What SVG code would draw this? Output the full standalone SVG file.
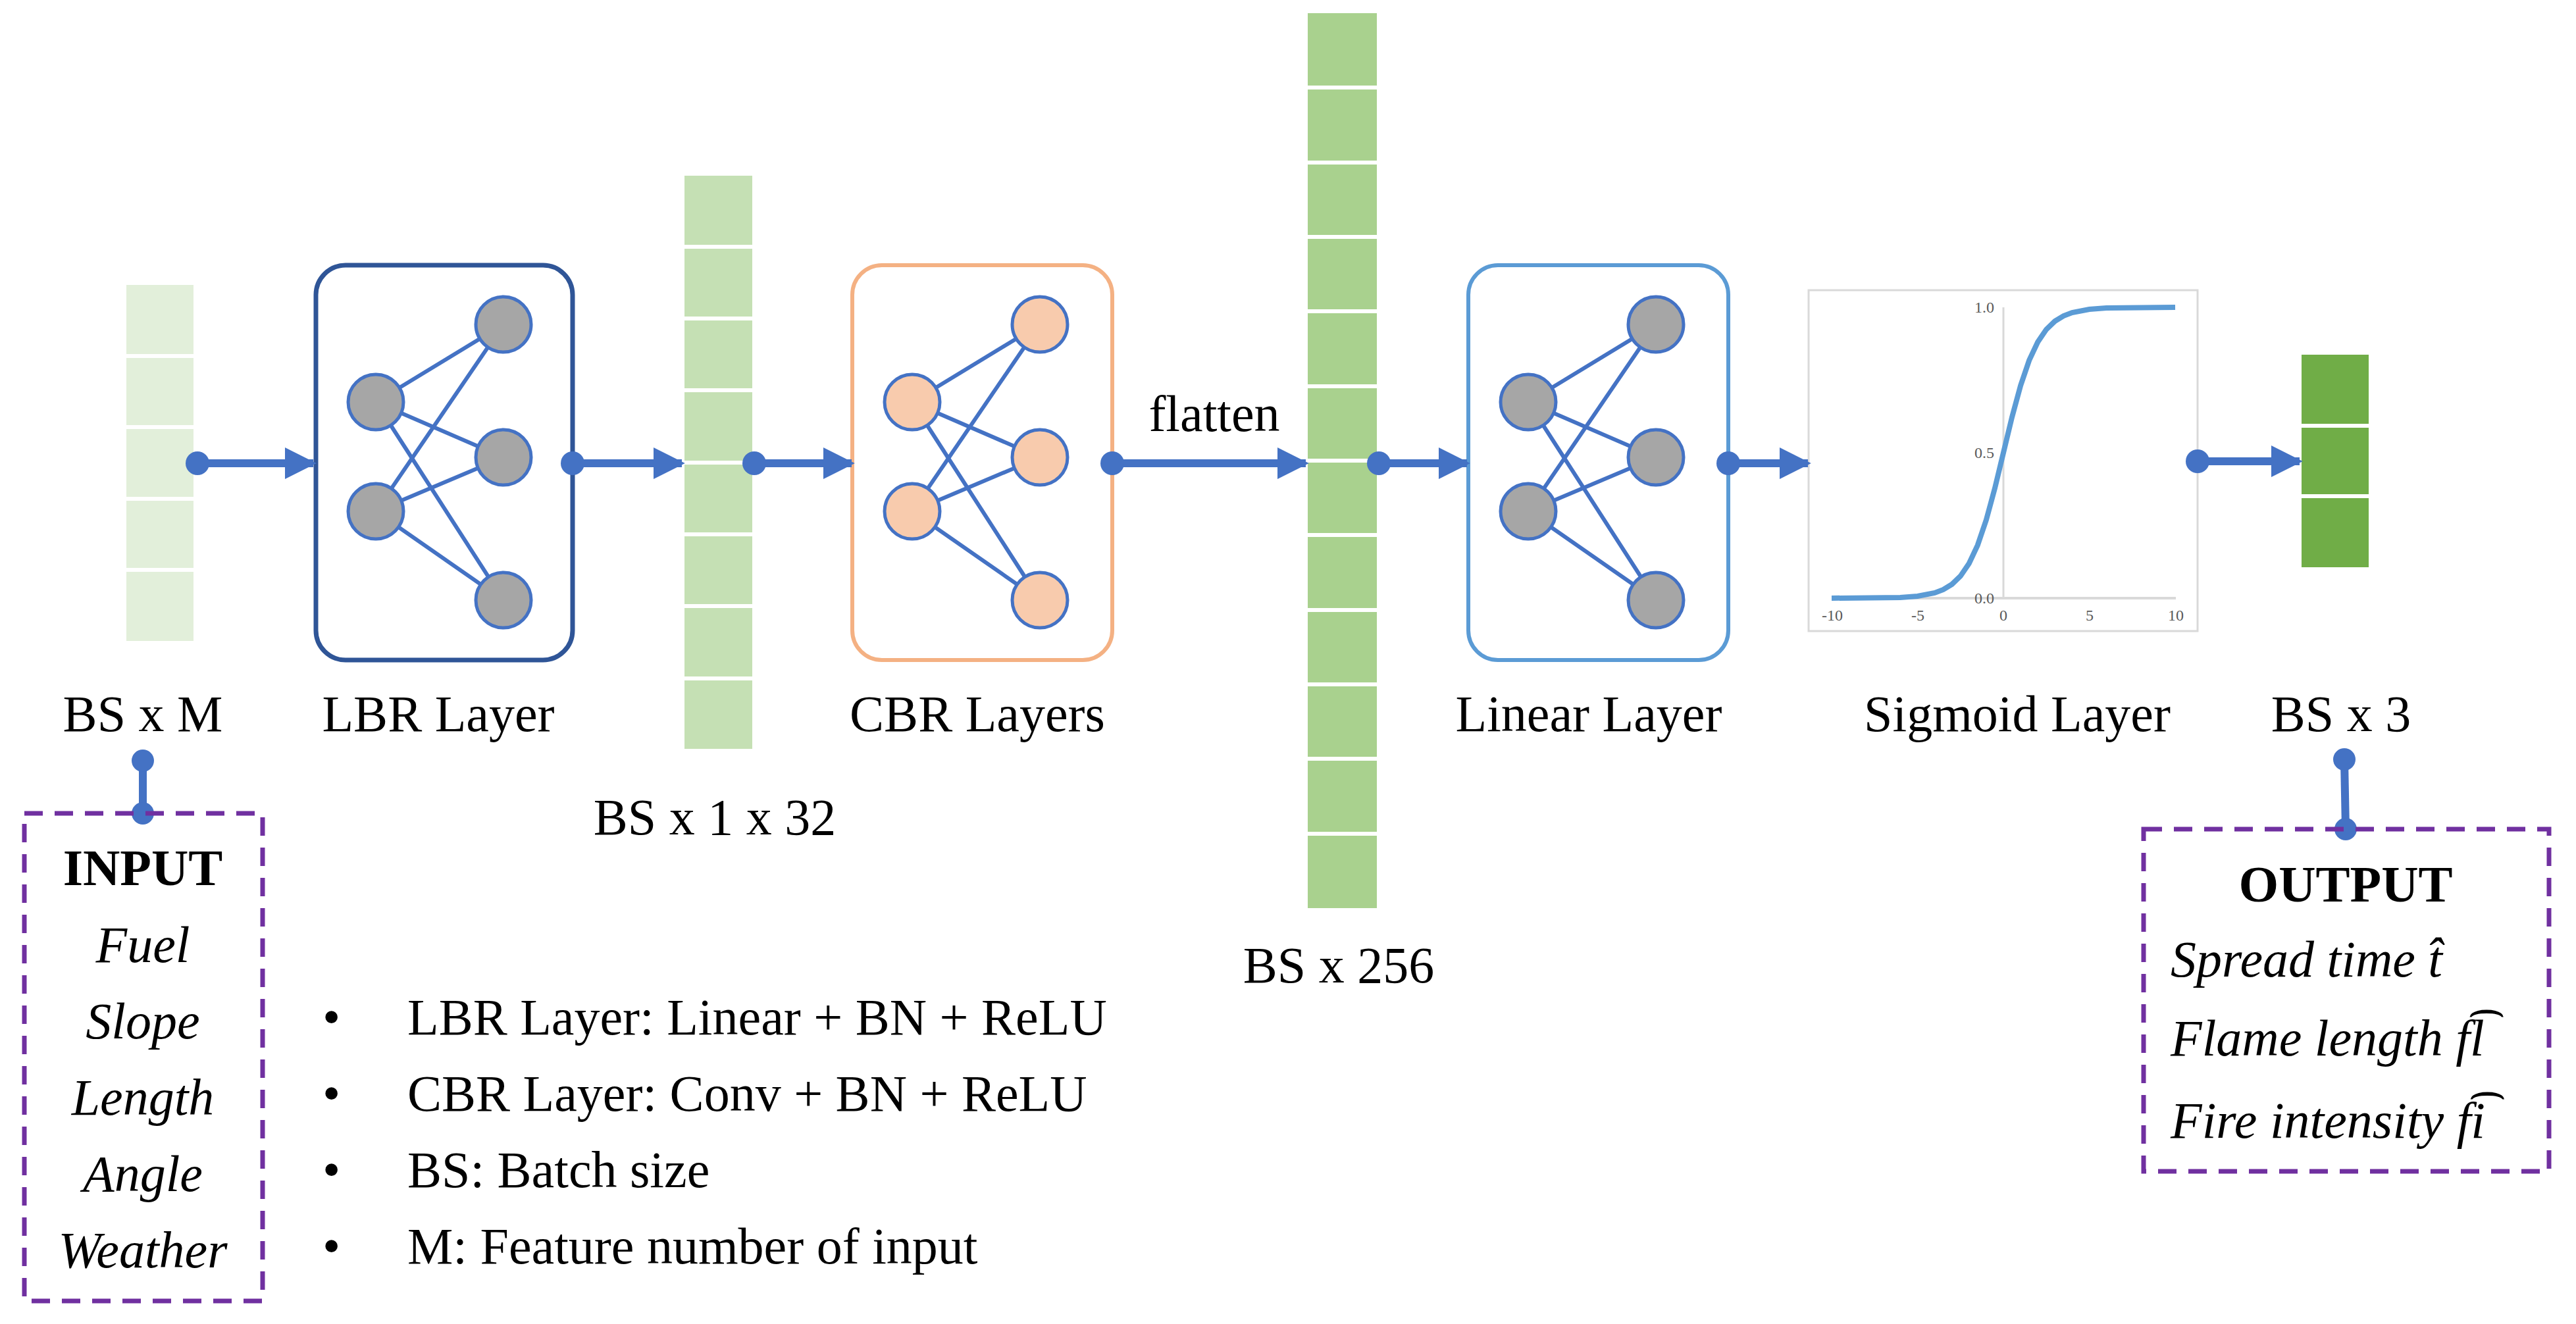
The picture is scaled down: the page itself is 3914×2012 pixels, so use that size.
<svg xmlns="http://www.w3.org/2000/svg" width="3914" height="2012" viewBox="0 0 3914 2012">
<style>
.t{font-family:"Liberation Serif",serif;font-size:78px;fill:#000}
.i{font-style:italic}
.b{font-weight:bold}
.n{stroke:#4472c4;stroke-width:5}
.e{stroke:#4472c4;stroke-width:6}
.cell{stroke:#fff;stroke-width:6}
.conn{stroke:#4472c4;stroke-width:12;fill:none}
.dash{fill:none;stroke:#7030a0;stroke-width:7;stroke-dasharray:28 18}
.tk{font-family:"Liberation Serif",serif;font-size:24px;fill:#595959}
</style>
<defs>
<marker id="ah" viewBox="0 0 10 10" refX="9" refY="5" markerWidth="4" markerHeight="4.5" markerUnits="strokeWidth" orient="auto"><path d="M0,0 L10,5 L0,10 z" fill="#4472c4"/></marker>
<g id="net">
<line class="e" x1="91" y1="210" x2="285" y2="92"/><line class="e" x1="91" y1="210" x2="285" y2="294"/><line class="e" x1="91" y1="210" x2="285" y2="511"/>
<line class="e" x1="91" y1="376" x2="285" y2="92"/><line class="e" x1="91" y1="376" x2="285" y2="294"/><line class="e" x1="91" y1="376" x2="285" y2="511"/>
</g>
</defs>
<rect width="3914" height="2012" fill="#fff"/>

<g id="input-col">
<rect x="192" y="433" width="102" height="541" fill="#e2efda"/>
<g class="cell"><line x1="192" y1="541" x2="294" y2="541"/><line x1="192" y1="649" x2="294" y2="649"/><line x1="192" y1="758" x2="294" y2="758"/><line x1="192" y1="866" x2="294" y2="866"/></g>
</g>

<g id="lbr">
<rect x="480" y="403" width="390" height="600" rx="45" fill="#fff" stroke="#2f5597" stroke-width="7"/>
<use href="#net" x="480" y="401"/>
<g fill="#a6a6a6" class="n"><circle cx="571" cy="611" r="42"/><circle cx="571" cy="777" r="42"/><circle cx="765" cy="493" r="42"/><circle cx="765" cy="695" r="42"/><circle cx="765" cy="912" r="42"/></g>
</g>

<g id="col32">
<rect x="1040" y="267" width="103" height="871" fill="#c5e0b4"/>
<g class="cell"><line x1="1040" y1="375" x2="1143" y2="375"/><line x1="1040" y1="484" x2="1143" y2="484"/><line x1="1040" y1="593" x2="1143" y2="593"/><line x1="1040" y1="703" x2="1143" y2="703"/><line x1="1040" y1="812" x2="1143" y2="812"/><line x1="1040" y1="921" x2="1143" y2="921"/><line x1="1040" y1="1031" x2="1143" y2="1031"/></g>
</g>

<g id="cbr">
<rect x="1295" y="403" width="395" height="600" rx="45" fill="#fff" stroke="#f4b183" stroke-width="6"/>
<use href="#net" x="1295" y="401"/>
<g fill="#f8cbad" class="n"><circle cx="1386" cy="611" r="42"/><circle cx="1386" cy="777" r="42"/><circle cx="1580" cy="493" r="42"/><circle cx="1580" cy="695" r="42"/><circle cx="1580" cy="912" r="42"/></g>
</g>

<g id="col256">
<rect x="1987" y="20" width="105" height="1360" fill="#a9d18e"/>
<g class="cell">
<line x1="1987" y1="133" x2="2092" y2="133"/><line x1="1987" y1="247" x2="2092" y2="247"/><line x1="1987" y1="360" x2="2092" y2="360"/><line x1="1987" y1="473" x2="2092" y2="473"/><line x1="1987" y1="587" x2="2092" y2="587"/><line x1="1987" y1="700" x2="2092" y2="700"/><line x1="1987" y1="813" x2="2092" y2="813"/><line x1="1987" y1="927" x2="2092" y2="927"/><line x1="1987" y1="1040" x2="2092" y2="1040"/><line x1="1987" y1="1153" x2="2092" y2="1153"/><line x1="1987" y1="1267" x2="2092" y2="1267"/>
</g>
</g>

<g id="linear">
<rect x="2231" y="403" width="395" height="600" rx="45" fill="#fff" stroke="#5b9bd5" stroke-width="6"/>
<use href="#net" x="2231" y="401"/>
<g fill="#a6a6a6" class="n"><circle cx="2322" cy="611" r="42"/><circle cx="2322" cy="777" r="42"/><circle cx="2516" cy="493" r="42"/><circle cx="2516" cy="695" r="42"/><circle cx="2516" cy="912" r="42"/></g>
</g>

<g id="sigmoid">
<rect x="2748" y="441" width="591" height="518" fill="#fff" stroke="#d9d9d9" stroke-width="3"/>
<line x1="2784" y1="909" x2="3306" y2="909" stroke="#d9d9d9" stroke-width="4"/>
<line x1="3044" y1="467" x2="3044" y2="909" stroke="#d9d9d9" stroke-width="3"/>
<polyline fill="none" stroke="#5b9bd5" stroke-width="8" points="2783,909 2887.4,907.9 2913.5,906 2939.6,901 2952.65,896 2965.7,888 2978.75,875.5 2991.8,856.3 3004.85,828.4 3017.9,790.1 3030.95,742.1 3044,688 3057.05,633.9 3070.1,585.9 3083.15,547.6 3096.2,519.7 3109.25,500.5 3122.3,488 3135.35,480 3148.4,475 3174.5,470 3200.6,468.1 3305,467"/>
<g class="tk" text-anchor="end"><text x="3030" y="475">1.0</text><text x="3030" y="696">0.5</text><text x="3030" y="917">0.0</text></g>
<g class="tk" text-anchor="middle"><text x="2784" y="943">-10</text><text x="2914" y="943">-5</text><text x="3044" y="943">0</text><text x="3175" y="943">5</text><text x="3306" y="943">10</text></g>
</g>

<g id="output-col">
<rect x="3497" y="539" width="102" height="323" fill="#70ad47"/>
<g class="cell"><line x1="3497" y1="647" x2="3599" y2="647"/><line x1="3497" y1="754" x2="3599" y2="754"/></g>
</g>

<g id="connectors" fill="#4472c4">
<line class="conn" x1="300" y1="704" x2="476" y2="704" marker-end="url(#ah)"/><circle cx="300" cy="704" r="18"/>
<line class="conn" x1="870" y1="704" x2="1036" y2="704" marker-end="url(#ah)"/><circle cx="870" cy="704" r="18"/>
<line class="conn" x1="1146" y1="704" x2="1294" y2="704" marker-end="url(#ah)"/><circle cx="1146" cy="704" r="18"/>
<line class="conn" x1="1690" y1="704" x2="1984" y2="704" marker-end="url(#ah)"/><circle cx="1690" cy="704" r="18"/>
<line class="conn" x1="2095" y1="704" x2="2229" y2="704" marker-end="url(#ah)"/><circle cx="2095" cy="704" r="18"/>
<line class="conn" x1="2626" y1="704" x2="2747" y2="704" marker-end="url(#ah)"/><circle cx="2626" cy="704" r="18"/>
<line class="conn" x1="3339" y1="701" x2="3494" y2="701" marker-end="url(#ah)"/><circle cx="3339" cy="701" r="18"/>
<line class="conn" x1="217" y1="1156" x2="217" y2="1236"/><circle cx="217" cy="1156" r="17"/><circle cx="217" cy="1236" r="17"/>
<line class="conn" x1="3562" y1="1154" x2="3564" y2="1260"/><circle cx="3562" cy="1154" r="17"/><circle cx="3564" cy="1260" r="17"/>
</g>

<g id="labels" class="t" text-anchor="middle">
<text x="1845" y="655">flatten</text>
<text x="217" y="1111">BS x M</text>
<text x="666" y="1111">LBR Layer</text>
<text x="1086" y="1268">BS x 1 x 32</text>
<text x="1485" y="1111">CBR Layers</text>
<text x="2034" y="1493">BS x 256</text>
<text x="2414" y="1111">Linear Layer</text>
<text x="3065" y="1111">Sigmoid Layer</text>
<text x="3557" y="1111">BS x 3</text>
</g>

<g id="input-box">
<rect class="dash" x="37" y="1236" width="362" height="741"/>
<g class="t" text-anchor="middle">
<text class="b" x="217" y="1345">INPUT</text>
<text class="i" x="217" y="1462">Fuel</text>
<text class="i" x="217" y="1578">Slope</text>
<text class="i" x="217" y="1694">Length</text>
<text class="i" x="217" y="1810">Angle</text>
<text class="i" x="217" y="1926">Weather</text>
</g>
</g>

<g id="output-box">
<rect class="dash" x="3257" y="1260" width="616" height="520"/>
<g class="t">
<text class="b" x="3564" y="1370" text-anchor="middle">OUTPUT</text>
<text class="i" x="3298" y="1484">Spread time t̂</text>
<text class="i" x="3298" y="1604">Flame length f͡l</text>
<text class="i" x="3298" y="1729">Fire intensity f͡i</text>
</g>
</g>

<g id="notes" class="t">
<text x="490" y="1572">•</text><text x="619" y="1572">LBR Layer: Linear + BN + ReLU</text>
<text x="490" y="1688">•</text><text x="619" y="1688">CBR Layer: Conv + BN + ReLU</text>
<text x="490" y="1804">•</text><text x="619" y="1804">BS: Batch size</text>
<text x="490" y="1920">•</text><text x="619" y="1920">M: Feature number of input</text>
</g>
</svg>
